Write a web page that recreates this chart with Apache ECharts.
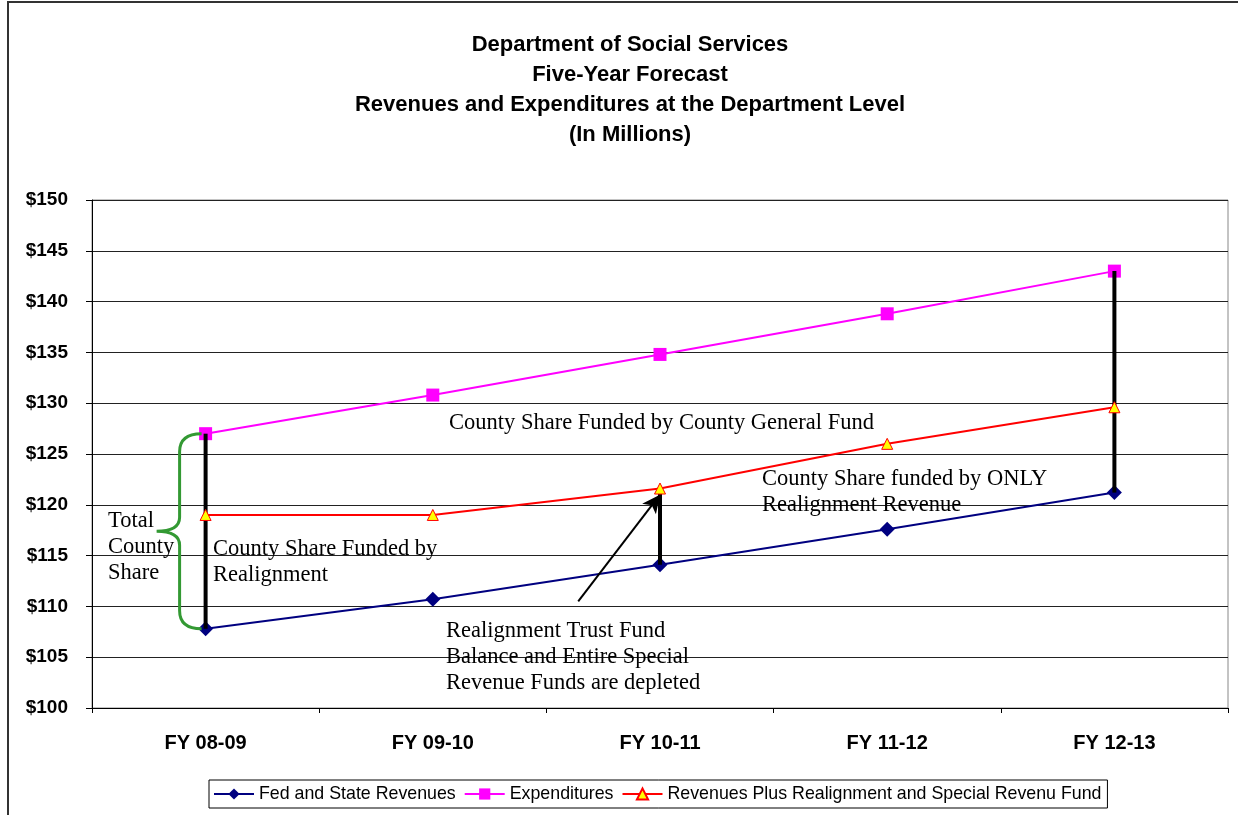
<!DOCTYPE html>
<html>
<head>
<meta charset="utf-8">
<script src="https://cdn.jsdelivr.net/npm/echarts@6/dist/echarts.min.js"></script>
<style>
html,body{margin:0;padding:0;background:#fff;}
#chart{width:1238px;height:815px;}
</style>
</head>
<body>
<div id="chart"></div>
<script>
const categories = ['FY 08-09', 'FY 09-10', 'FY 10-11', 'FY 11-12', 'FY 12-13'];
const fedState = [107.8, 110.7, 114.1, 117.6, 121.2];
const expenditures = [127.0, 130.8, 134.8, 138.8, 143.0];
const revPlus = [119.0, 119.0, 121.6, 126.0, 129.6];
const yTicks = [100, 105, 110, 115, 120, 125, 130, 135, 140, 145, 150];
const titleLines = ['Department of Social Services', 'Five-Year Forecast', 'Revenues and Expenditures at the Department Level', '(In Millions)'];
// vertical black gap segments: [category index, from value, to value]
const gapSegments = [
  [0, expenditures[0], revPlus[0]],
  [0, revPlus[0], fedState[0]],
  [2, revPlus[2], fedState[2]],
  [4, expenditures[4], revPlus[4]],
  [4, revPlus[4], fedState[4]]
];
// arrow from annotation text to FY 10-11 (category index, value)
const arrowFrom = [1.64, 110.5];
const arrowTo = [2.0, 121.0];
// brace spanning total county share at FY 08-09
const braceSpan = [[0, expenditures[0], fedState[0]]];

const chart = echarts.init(document.getElementById('chart'));
const serif = 'Liberation Serif';
const sans = 'Liberation Sans';

function annot(x, y, text) {
  return {
    type: 'text', x: x, y: y, z: 50,
    style: { text: text, font: '22.5px "' + serif + '"', fill: '#000', textVerticalAlign: 'middle', lineHeight: 26 }
  };
}

const option = {
  animation: false,
  backgroundColor: '#fff',
  title: {
    text: titleLines.join('\n'),
    left: 625,
    textAlign: 'center',
    top: 25,
    textStyle: { fontFamily: sans, fontSize: 22, fontWeight: 'bold', color: '#000', lineHeight: 30 }
  },
  legend: {
    data: ['Fed and State Revenues', 'Expenditures', 'Revenues Plus Realignment and Special Revenu Fund'],
    left: 209,
    top: 780,
    itemWidth: 40,
    itemHeight: 14,
    itemGap: 8,
    padding: [5, 6, 5, 4],
    borderColor: '#000',
    borderWidth: 1,
    textStyle: { fontFamily: sans, fontSize: 17.8, color: '#000' }
  },
  grid: {
    left: 92, right: 10, top: 200, bottom: 107,
    show: true, borderColor: '#888', borderWidth: 1
  },
  xAxis: [{
    type: 'category',
    data: categories,
    boundaryGap: true,
    axisLine: { onZero: false, lineStyle: { color: '#000', width: 1 } },
    axisTick: { show: true, length: 5, lineStyle: { color: '#000' } },
    axisLabel: { fontFamily: sans, fontSize: 20, fontWeight: 'bold', color: '#000', margin: 25 },
    splitLine: { show: false }
  }, {
    type: 'value', min: -0.5, max: 4.5, show: false
  }],
  yAxis: {
    type: 'value', min: yTicks[0], max: yTicks[yTicks.length - 1], interval: 5,
    axisLine: { show: true, onZero: false, lineStyle: { color: '#000', width: 1 } },
    axisTick: { show: true, length: 6, lineStyle: { color: '#000' } },
    axisLabel: { fontFamily: sans, fontSize: 19, fontWeight: 'bold', color: '#000', margin: 24, formatter: v => '$' + v },
    splitLine: { show: true, lineStyle: { color: '#222', width: 1 } }
  },
  series: [
    {
      name: 'Fed and State Revenues', type: 'line', data: fedState, z: 4,
      symbol: 'diamond', symbolSize: 15,
      lineStyle: { color: '#000080', width: 2 },
      itemStyle: { color: '#000080' }
    },
    {
      name: 'Expenditures', type: 'line', data: expenditures, z: 3,
      symbol: 'rect', symbolSize: 13,
      lineStyle: { color: '#FF00FF', width: 2 },
      itemStyle: { color: '#FF00FF' }
    },
    {
      name: 'Revenues Plus Realignment and Special Revenu Fund', type: 'line', data: revPlus, z: 6,
      symbol: 'triangle', symbolSize: 11,
      lineStyle: { color: '#FF0000', width: 2 },
      itemStyle: { color: '#FFFF00', borderColor: '#FF0000', borderWidth: 1 }
    },
    {
      name: 'gaps', type: 'custom', xAxisIndex: 1, z: 5,
      data: gapSegments,
      renderItem: function (params, api) {
        const a = api.coord([api.value(0), api.value(1)]);
        const b = api.coord([api.value(0), api.value(2)]);
        return { type: 'line', shape: { x1: a[0], y1: a[1], x2: b[0], y2: b[1] }, style: { stroke: '#000', lineWidth: 4 } };
      },
      silent: true
    },
    {
      name: 'brace', type: 'custom', xAxisIndex: 1, z: 5,
      data: braceSpan,
      renderItem: function (params, api) {
        const t = api.coord([api.value(0), api.value(1)]);
        const b = api.coord([api.value(0), api.value(2)]);
        const X = t[0], T = t[1], B = b[1], M = (T + B) / 2;
        const p = 'M' + (X - 4) + ' ' + T +
          ' Q' + (X - 26) + ' ' + T + ' ' + (X - 26) + ' ' + (T + 18) +
          ' L' + (X - 26) + ' ' + (M - 14) +
          ' Q' + (X - 26) + ' ' + M + ' ' + (X - 49) + ' ' + M +
          ' Q' + (X - 26) + ' ' + M + ' ' + (X - 26) + ' ' + (M + 14) +
          ' L' + (X - 26) + ' ' + (B - 18) +
          ' Q' + (X - 26) + ' ' + B + ' ' + (X - 4) + ' ' + B;
        return { type: 'path', shape: { pathData: p }, style: { stroke: '#339933', lineWidth: 3, fill: null } };
      },
      silent: true
    },
    {
      name: 'arrow', type: 'line', xAxisIndex: 1, data: [], z: 5,
      markLine: {
        silent: true, animation: false,
        symbol: ['none', 'arrow'], symbolSize: [13, 18],
        label: { show: false },
        lineStyle: { color: '#000', width: 2, type: 'solid' },
        data: [[{ coord: arrowFrom }, { coord: arrowTo }]]
      }
    }
  ],
  graphic: [
    { type: 'rect', shape: { x: 8, y: 2, width: 1260, height: 900 }, style: { fill: null, stroke: '#333', lineWidth: 2 }, z: 60, silent: true },
    annot(449, 423, 'County Share Funded by County General Fund'),
    annot(762, 492, 'County Share funded by ONLY\nRealignment Revenue'),
    annot(108, 547, 'Total\nCounty\nShare'),
    annot(213, 562, 'County Share Funded by\nRealignment'),
    annot(446, 657, 'Realignment Trust Fund\nBalance and Entire Special\nRevenue Funds are depleted')
  ]
};
chart.setOption(option);
</script>
</body>
</html>
